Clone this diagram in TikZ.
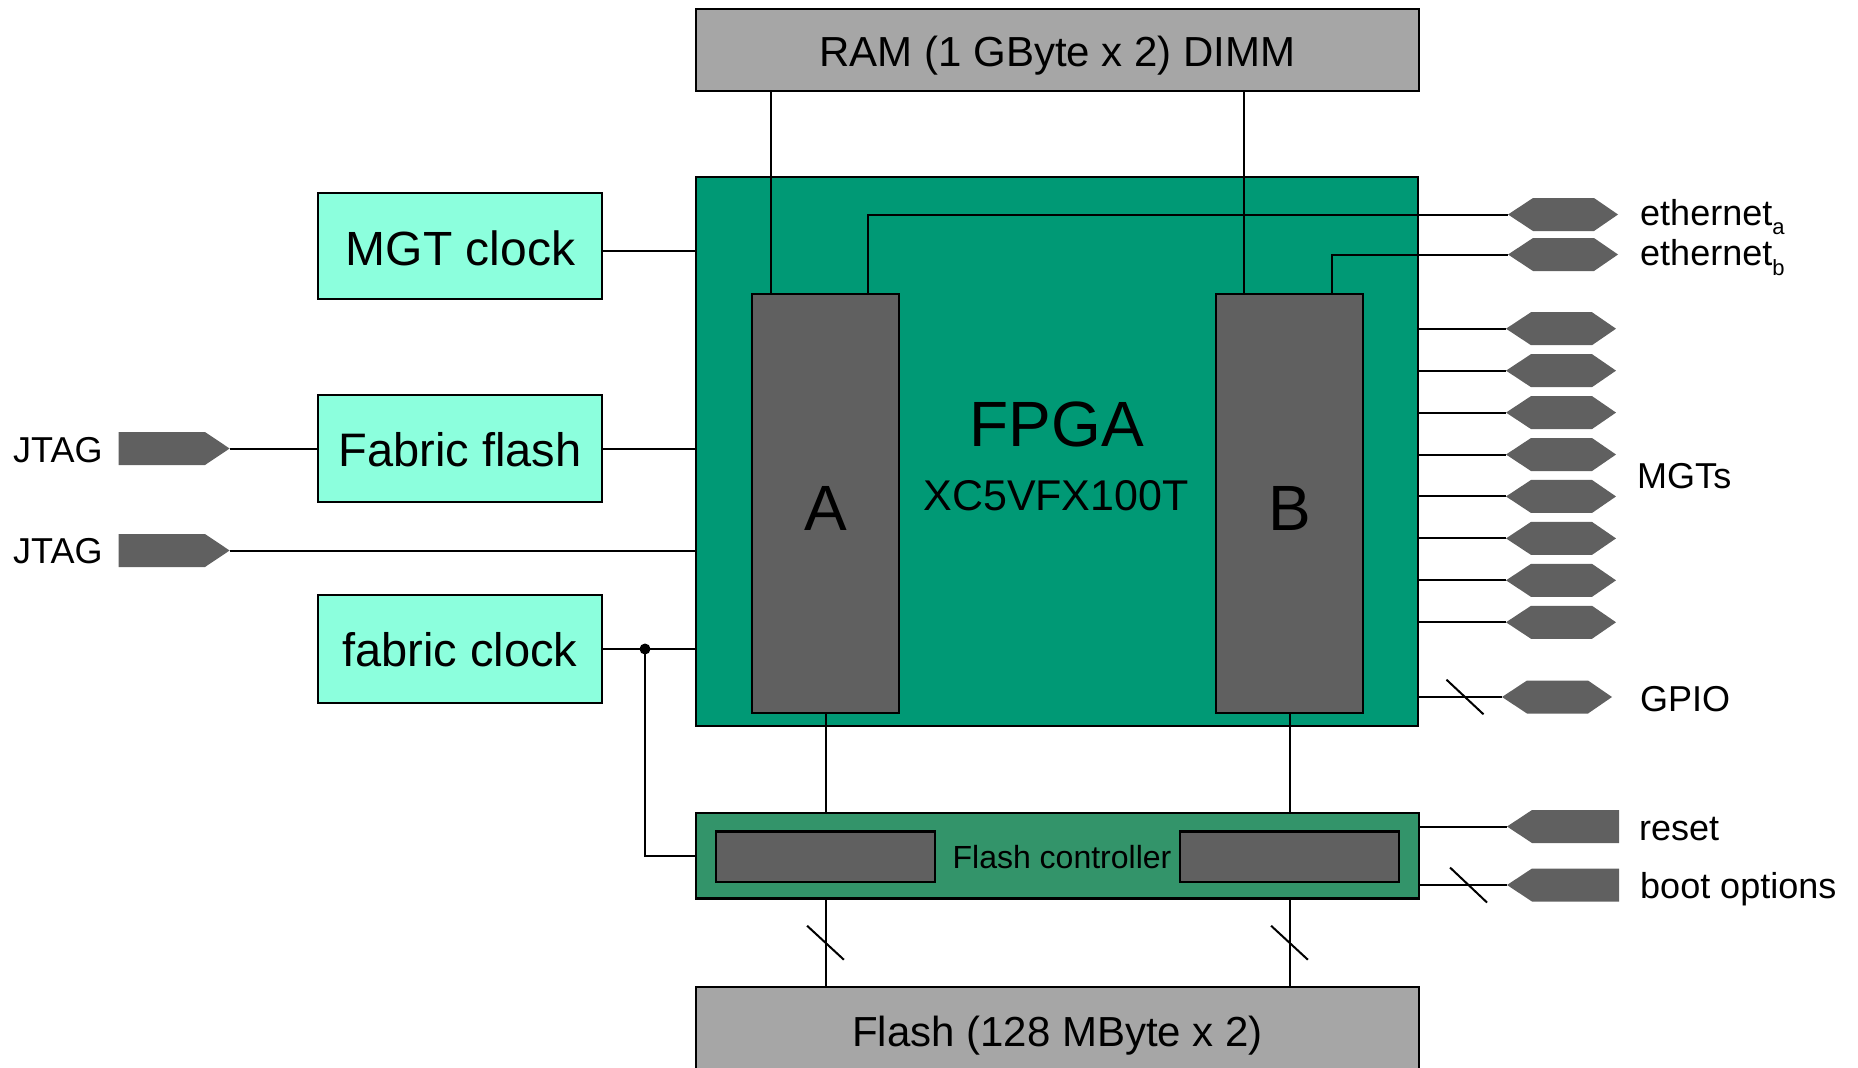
\documentclass[tikz,border=0pt]{standalone}
\usepackage{fontspec}
\setmainfont{Liberation Sans}
\usetikzlibrary{calc}
\definecolor{fpgagreen}{RGB}{0,153,117}
\definecolor{mint}{RGB}{140,255,221}
\definecolor{ctrlgreen}{RGB}{51,148,106}
\definecolor{darkblk}{RGB}{96,96,96}
\definecolor{lightgr}{RGB}{166,166,166}
\newcommand{\myfs}[1]{\fontsize{#1}{#1}\selectfont}
\tikzset{
  box/.style={draw=black, line width=2.2pt, inner sep=0pt, outer sep=0pt},
  wire/.style={draw=black, line width=2pt},
  lbl/.style={inner sep=0pt, anchor=base west, font=\myfs{36}},
  ctext/.style={inner sep=0pt, anchor=base},
  conn/.style={fill=darkblk, draw=none},
}
% bidirectional connector: left tip at (#2,#3)
\newcommand{\hexcon}[3]{%
  \fill[conn] (#2,#3) -- ++(25,-16.5) -- ++(61,0) -- ++(24,16.5) -- ++(-24,16.5) -- ++(-61,0) -- cycle;
  \coordinate (#1) at (#2,#3);}
% output connector: right tip at (#2,#3)
\newcommand{\outcon}[3]{%
  \fill[conn] (#2,#3) -- ++(-24.6,-16.5) -- ++(-86.5,0) -- ++(0,33) -- ++(86.5,0) -- cycle;
  \coordinate (#1) at (#2,#3);}
% input connector: left tip at (#2,#3)
\newcommand{\incon}[3]{%
  \fill[conn] (#2,#3) -- ++(25,-16.5) -- ++(87,0) -- ++(0,33) -- ++(-87,0) -- cycle;
  \coordinate (#1) at (#2,#3);}
\begin{document}
\begin{tikzpicture}[x=1pt,y=-1pt]
\useasboundingbox (0,0) rectangle (1858,1068);
\clip (0,0) rectangle (1858,1068);

% ---- central blocks
\node[box, fill=lightgr, minimum width=723pt, minimum height=82pt] (ram) at (1057.5,50) {};
\node[box, fill=fpgagreen, minimum width=722pt, minimum height=549pt] (fpga) at (1057,451.5) {};
\node[box, fill=darkblk, minimum width=147pt, minimum height=419pt] (A) at (825.5,503.5) {};
\node[box, fill=darkblk, minimum width=147pt, minimum height=419pt] (B) at (1289.5,503.5) {};
\node[box, fill=ctrlgreen, minimum width=723pt, minimum height=85.5pt] (ctrl) at (1057.5,855.75) {};
\node[box, fill=darkblk, minimum width=219pt, minimum height=50.5pt] (ctrlL) at (825.5,856.75) {};
\node[box, fill=darkblk, minimum width=219pt, minimum height=50.5pt] (ctrlR) at (1289.5,856.75) {};
\node[box, fill=lightgr, minimum width=723pt, minimum height=100pt, anchor=north] (flash) at (1057.5,987) {};

% ---- left blocks
\node[box, fill=mint, minimum width=284pt, minimum height=106pt] (mgtclk) at (460,246) {};
\node[box, fill=mint, minimum width=284pt, minimum height=107pt] (fflash) at (460,448.5) {};
\node[box, fill=mint, minimum width=284pt, minimum height=108pt] (fclk) at (460,649) {};

% ---- texts
\node[ctext, font=\myfs{42}] (tram) at (1057.5,66.7) {RAM (1 GByte x 2) DIMM};
\node[ctext, font=\myfs{42}] (tflash) at (1057.5,1046) {Flash (128 MByte x 2)};
\node[ctext, font=\myfs{64}] (tfpga) at (1057,446) {FPGA};
\node[ctext, font=\myfs{43}] (tpart) at (1056,510.7) {XC5VFX100T};
\node[ctext, font=\myfs{64}] (tA) at (826,530) {A};
\node[ctext, font=\myfs{64}] (tB) at (1290,530) {B};
\node[ctext, font=\myfs{32}] (tctrl) at (1062,868) {Flash controller};
\node[ctext, font=\myfs{48}] (tmgtclk) at (460.5,265.5) {MGT clock};
\node[ctext, font=\myfs{47}] (tfflash) at (460,466.5) {Fabric flash};
\node[ctext, font=\myfs{47}] (tfclk) at (460,666.5) {fabric clock};

% ---- connectors (right)
\hexcon{etha}{1508}{214.5}
\hexcon{ethb}{1508}{254.5}
\foreach \k in {0,...,7}{
  \hexcon{mgt\k}{1506}{328.7+41.94*\k}
  \draw[wire] (mgt\k -| fpga.east) -- (mgt\k);
}
\hexcon{gpio}{1502}{697}
\incon{reset}{1507}{826.5}
\incon{boot}{1507}{885}
% ---- connectors (left)
\outcon{jtag1}{229.6}{448.5}
\outcon{jtag2}{229.6}{550.5}

% ---- wires
\coordinate (ra) at ([xshift=19pt]A.north west);
\draw[wire] (ra) -- (ra |- ram.south);
\coordinate (rb) at ([xshift=27.7pt]B.north west);
\draw[wire] (rb) -- (rb |- ram.south);
\draw[wire] ([xshift=116pt]A.north west) |- (etha);
\draw[wire] ([xshift=116pt]B.north west) |- (ethb);
\draw[wire] (gpio -| fpga.east) -- (gpio);
\draw[wire] ([xshift=-37pt]gpio) ++(-18.5,-17.3) -- ++(37,34.6);
\draw[wire] (reset -| ctrl.east) -- (reset);
\draw[wire] (boot -| ctrl.east) -- (boot);
\draw[wire] ([xshift=-38.5pt]boot) ++(-18.5,-17.5) -- ++(37,35);
\draw[wire] (A.south) -- (A.south |- ctrl.north);
\draw[wire] (B.south) -- (B.south |- ctrl.north);
\draw[wire] (ctrlL |- ctrl.south) -- (ctrlL |- flash.north);
\draw[wire] (ctrlR |- ctrl.south) -- (ctrlR |- flash.north);
\draw[wire] ($(ctrlL |- ctrl.south)!0.5!(ctrlL |- flash.north)$) ++(-18.4,-17) -- ++(36.8,34);
\draw[wire] ($(ctrlR |- ctrl.south)!0.5!(ctrlR |- flash.north)$) ++(-18.4,-17) -- ++(36.8,34);

\coordinate (mgtout) at ([yshift=-5pt]mgtclk.east);
\draw[wire] (mgtout) -- (mgtout -| fpga.west);
\draw[wire] (fflash.east) -- (fflash.east -| fpga.west);
\draw[wire] (fclk.east) -- (fclk.east -| fpga.west);
\coordinate (dot) at ([xshift=43pt]fclk.east);
\fill (dot) circle (5.5);
\draw[wire] (dot) |- (ctrl.west);
\draw[wire] (jtag1) -- (fflash.west);
\draw[wire] (jtag2) -- (jtag2 -| fpga.west);

% ---- labels
\node[lbl] (tetha) at (1640,225.5) {ethernet\raisebox{-9pt}{\myfs{22}a}};
\node[lbl] (tethb) at (1640,265) {ethernet\raisebox{-10pt}{\myfs{22}b}};
\node[lbl] (tmgts) at (1637,488) {MGTs};
\node[lbl] (tgpio) at (1640,711) {GPIO};
\node[lbl] (treset) at (1639,840) {reset};
\node[lbl] (tboot) at (1640,898) {boot options};
\node[lbl] (tjtag1) at (13,462) {JTAG};
\node[lbl] (tjtag2) at (13,563) {JTAG};
\end{tikzpicture}
\end{document}
